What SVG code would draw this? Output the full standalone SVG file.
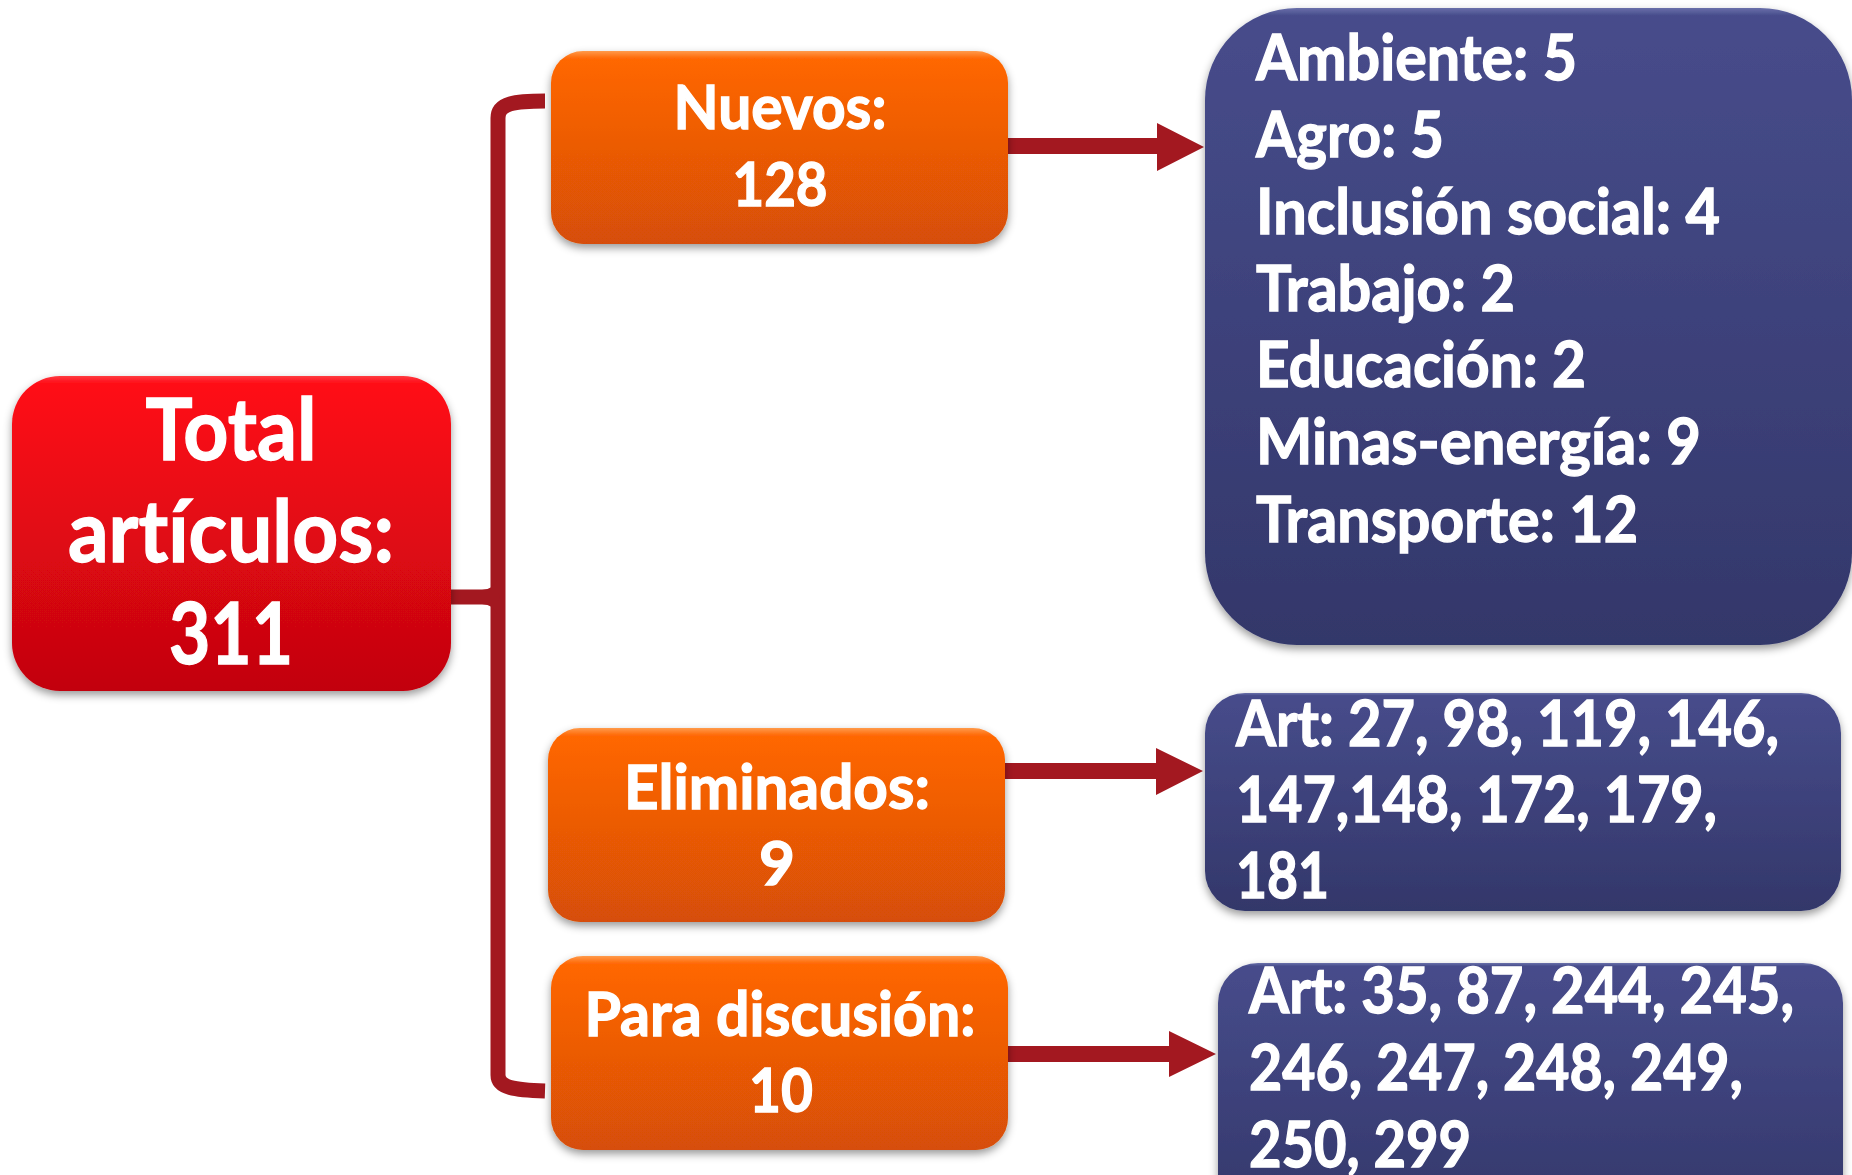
<svg xmlns="http://www.w3.org/2000/svg" width="1852" height="1175" viewBox="0 0 1852 1175">
<defs>
<linearGradient id="gRed" x1="0" y1="0" x2="0" y2="1">
<stop offset="0" stop-color="#ff3a40"/>
<stop offset="0.025" stop-color="#ff0a16"/>
<stop offset="1" stop-color="#c2050f"/>
</linearGradient>
<linearGradient id="gOrange" x1="0" y1="0" x2="0" y2="1">
<stop offset="0" stop-color="#ff9a4a"/>
<stop offset="0.04" stop-color="#ff6705"/>
<stop offset="1" stop-color="#d64e07"/>
</linearGradient>
<linearGradient id="gBlue" x1="0" y1="0" x2="0" y2="1">
<stop offset="0" stop-color="#6a70aa"/>
<stop offset="0.012" stop-color="#474c8b"/>
<stop offset="1" stop-color="#33376a"/>
</linearGradient>
<filter id="shadow" x="-10%" y="-10%" width="120%" height="125%">
<feDropShadow dx="0" dy="4" stdDeviation="4" flood-color="#000" flood-opacity="0.4"/>
</filter>
</defs>
<style>
.txt{font-family:Lato,"Open Sans","Liberation Sans",sans-serif;font-weight:bold;fill:#ffffff;stroke:#ffffff;stroke-width:1.3px;font-variant-ligatures:none}
.c{text-anchor:middle}
.big{font-size:86px}
.mid{font-size:62px}
.lst{font-size:63px}
.conn{fill:#a31820;stroke:none}
.brace{fill:none;stroke:#a31820;stroke-width:15}
</style>
<rect width="1852" height="1175" fill="#ffffff"/>

<g id="connectors">
<path class="brace" d="M 545 101 C 515 101 498 103 498 118 L 498 1075 C 498 1088 515 1090 545 1091"/>
<path class="brace" d="M 447 597 L 492 597" stroke-width="14" stroke-linecap="round"/>
<path class="conn" d="M 482 590 Q 494 589 497 580 L 497 614 Q 494 605 482 604 Z"/>
<polygon class="conn" points="1007,138 1157,138 1157,123 1204,147 1157,171 1157,154 1007,154"/>
<polygon class="conn" points="1005,763 1156,763 1156,748 1203,771 1156,795 1156,779 1005,779"/>
<polygon class="conn" points="1008,1046 1169,1046 1169,1031 1216,1054 1169,1077 1169,1062 1008,1062"/>
</g>

<g id="total">
<rect x="12" y="376" width="439" height="315" rx="48" fill="url(#gRed)" filter="url(#shadow)"/>
<text class="txt c big" x="231" y="460" textLength="171" lengthAdjust="spacingAndGlyphs">Total</text>
<text class="txt c big" x="231" y="562" textLength="326" lengthAdjust="spacingAndGlyphs">artículos:</text>
<text class="txt c big" x="231" y="664" textLength="124" lengthAdjust="spacingAndGlyphs">311</text>
</g>

<g id="nuevos">
<rect x="551" y="51" width="457" height="193" rx="32" fill="url(#gOrange)" filter="url(#shadow)"/>
<text class="txt c mid" x="780" y="129" textLength="213" lengthAdjust="spacingAndGlyphs">Nuevos:</text>
<text class="txt c mid" x="780" y="206" textLength="95" lengthAdjust="spacingAndGlyphs">128</text>
</g>

<g id="eliminados">
<rect x="548" y="728" width="457" height="194" rx="32" fill="url(#gOrange)" filter="url(#shadow)"/>
<text class="txt c mid" x="777" y="809" textLength="306" lengthAdjust="spacingAndGlyphs">Eliminados:</text>
<text class="txt c mid" x="777" y="885">9</text>
</g>

<g id="discusion">
<rect x="551" y="956" width="457" height="194" rx="32" fill="url(#gOrange)" filter="url(#shadow)"/>
<text class="txt c mid" x="780" y="1036" textLength="391" lengthAdjust="spacingAndGlyphs">Para discusión:</text>
<text class="txt c mid" x="781" y="1112" textLength="64" lengthAdjust="spacingAndGlyphs">10</text>
</g>

<g id="categorias">
<rect x="1205" y="8" width="647" height="637" rx="92" fill="url(#gBlue)" filter="url(#shadow)"/>
<text class="txt lst" x="1256" y="80" textLength="321" lengthAdjust="spacingAndGlyphs">Ambiente: 5</text>
<text class="txt lst" x="1256" y="157" textLength="188" lengthAdjust="spacingAndGlyphs">Agro: 5</text>
<text class="txt lst" x="1256" y="234" textLength="464" lengthAdjust="spacingAndGlyphs">Inclusión social: 4</text>
<text class="txt lst" x="1256" y="311" textLength="259" lengthAdjust="spacingAndGlyphs">Trabajo: 2</text>
<text class="txt lst" x="1256" y="387" textLength="330" lengthAdjust="spacingAndGlyphs">Educación: 2</text>
<text class="txt lst" x="1256" y="464" textLength="445" lengthAdjust="spacingAndGlyphs">Minas-energía: 9</text>
<text class="txt lst" x="1256" y="542" textLength="382" lengthAdjust="spacingAndGlyphs">Transporte: 12</text>
</g>

<g id="eliminados-lista">
<rect x="1205" y="693" width="636" height="218" rx="40" fill="url(#gBlue)" filter="url(#shadow)"/>
<text class="txt lst" x="1236" y="746" textLength="543" lengthAdjust="spacingAndGlyphs">Art: 27, 98, 119, 146,</text>
<text class="txt lst" x="1236" y="822" textLength="481" lengthAdjust="spacingAndGlyphs">147,148, 172, 179,</text>
<text class="txt lst" x="1236" y="898" textLength="93" lengthAdjust="spacingAndGlyphs">181</text>
</g>

<g id="discusion-lista">
<rect x="1218" y="963" width="625" height="260" rx="40" fill="url(#gBlue)" filter="url(#shadow)"/>
<text class="txt lst" x="1249" y="1013" textLength="545" lengthAdjust="spacingAndGlyphs">Art: 35, 87, 244, 245,</text>
<text class="txt lst" x="1249" y="1090" textLength="494" lengthAdjust="spacingAndGlyphs">246, 247, 248, 249,</text>
<text class="txt lst" x="1249" y="1167" textLength="222" lengthAdjust="spacingAndGlyphs">250, 299</text>
</g>
</svg>
